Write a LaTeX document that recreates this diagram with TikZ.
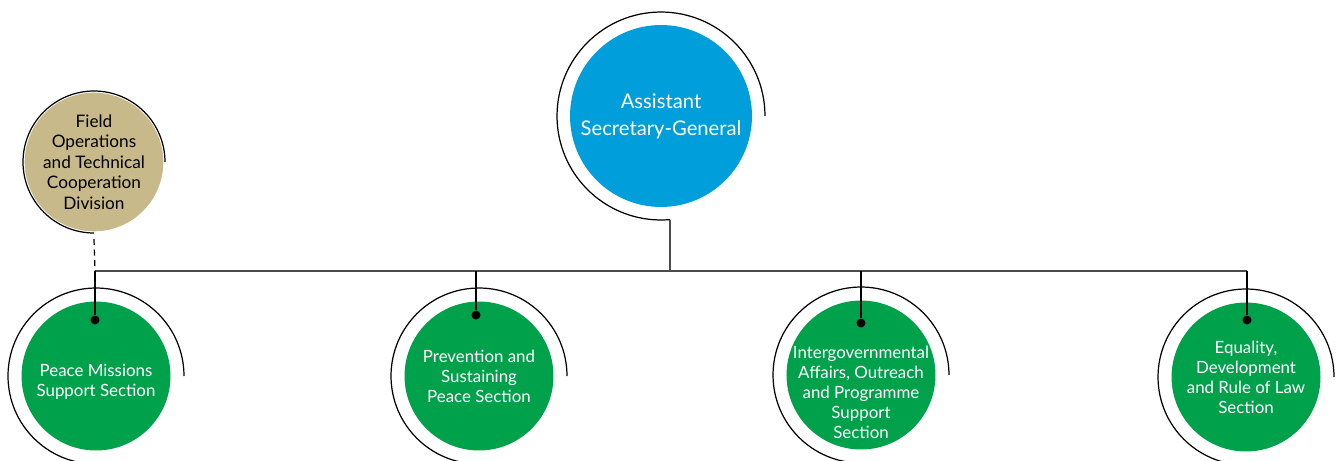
\documentclass[tikz,border=0pt]{standalone}
\usepackage{fontspec}
\setmainfont{Lato}
\definecolor{unblue}{HTML}{009EDB}
\definecolor{ungreen}{HTML}{00A14B}
\definecolor{untan}{HTML}{C8B98A}
\begin{document}
\begin{tikzpicture}[x=0.02cm,y=-0.02cm] \tikzset{% This is the style settings for nodes
        asg/.style={circle,minimum size=3.64cm,inner sep=0,fill=unblue,text=white,align=center,font=\fontsize{11.5}{15.3}\selectfont},
        div/.style={circle,minimum size=2.42cm,inner sep=0,fill=untan,align=center,font=\fontsize{9.8}{11.6}\selectfont},
        sec/.style={circle,minimum size=2.98cm,inner sep=0,fill=ungreen,text=white,align=center,font=\fontsize{9.6}{11.4}\selectfont},
        sectxt/.style={inner sep=0,text=white,align=center,font=\fontsize{9.6}{11.4}\selectfont},
        dot/.style={circle,fill=black,minimum size=0.18cm,inner sep=0},
        c1/.style={line width=0.7pt}, c2/.style={black!70, line width=0.9pt},
        c3/.style={dash pattern=on 3.5pt off 2.5pt, line width=0.7pt},
        }
        \useasboundingbox (0,0) rectangle (1338,460); \clip (0,0) rectangle (1338,460);
        % Nodes
        \node[asg] (asg) at (661,116) {Assistant\\Secretary-General};
        \node[div] (fotcd) at (94,162) {Field\\Operations\\and Technical\\Cooperation\\Division};
        \node[sec] (pmss) at (96,376) {}; \node[sectxt] (pmss-t) at (96,382) {Peace Missions\\Support Section};
        \node[sec] (psps) at (479,376) {Prevention and\\Sustaining\\Peace Section}; \node[sec] (iaops) at (861,375) {};
        \node[sectxt] (iaops-t) at (861,392) {Intergovernmental\\Affairs, Outreach\\and Programme\\Support\\Section};
        \node[sec] (edrl) at (1246,377) {Equality,\\Development\\and Rule of Law\\Section};
        \node[dot] (d1) at (95,320) {}; \node[dot] (d2) at (476,315) {}; \node[dot] (d3) at (861,323) {};
        \node[dot] (d4) at (1247,320) {};
        %Arcs
        \draw[c1] ([xshift=2.08cm]asg.center) arc[start angle=0,end angle=275,radius=2.08cm] coordinate (asg-end);
        \draw[c1] ([xshift=1.42cm]fotcd.center) arc[start angle=0,end angle=270,radius=1.42cm] coordinate (fotcd-end);
        \foreach \n in {pmss,psps,iaops,edrl} \draw[c1] ([xshift=1.76cm]\n.center) arc[start angle=0,end angle=270,radius=1.76cm];
        %Edges
        \coordinate (b1) at (95,271); \coordinate (b2) at (476,271); \coordinate (b3) at (861,271);
        \coordinate (b4) at (1247,271);
        \draw[c2] (b1) -- (b4); \draw[c2] (asg-end) -- (asg-end |- b1);
        \draw[c3] ([yshift=-0.12cm]fotcd-end) -- (b1);
        \foreach \i in {1,...,4} \draw[c1] (b\i) -- (d\i);
\end{tikzpicture}
\end{document}
